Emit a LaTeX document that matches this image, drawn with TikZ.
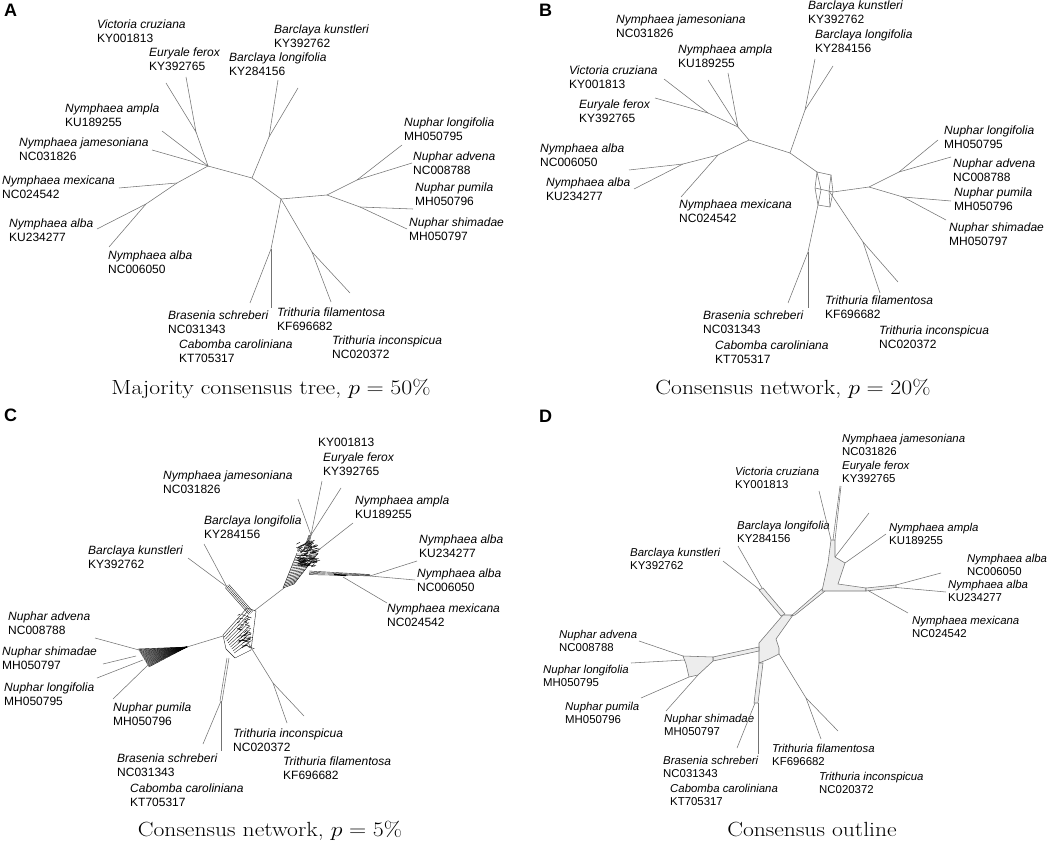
\documentclass[tikz,border=0pt]{standalone}
\usepackage{fontspec}
\newfontfamily\labfont{Liberation Sans}
\usetikzlibrary{positioning}

\newcommand{\tx}[2]{\textit{#1}\\#2}
\newcommand{\captext}[1]{\scalebox{1.15}[1]{#1}}

\begin{document}
\begin{tikzpicture}[%
x=1pt, y=-1pt,
br/.style={draw=black!55, line width=0.55pt},
net/.style={draw=black!85, line width=0.4pt},
hull/.style={draw=black!55, fill=black!7, line width=0.55pt},
taxon/.style={anchor=north west, inner sep=0pt, align=left,
  font=\labfont\fontsize{12}{14}\selectfont},
taxonsm/.style={taxon, font=\labfont\fontsize{11.4}{13.5}\selectfont},
panel/.style={anchor=north west, inner sep=0pt,
  font=\labfont\bfseries\fontsize{18}{18}\selectfont},
capt/.style={anchor=base, inner sep=0pt, font=\fontsize{20.5}{22}\selectfont}
]
\useasboundingbox (0,0) rectangle (1052,842);

\node[panel] (A) at (4,4) {A};
\node[panel] (B) at (539,4) {B};
\node[panel] (C) at (4,409) {C};
\node[panel] (D) at (539,410) {D};

% ---------- A: majority consensus tree
\node[taxon] (a-vic) at (97,20)  {\tx{Victoria cruziana}{KY001813}};
\node[taxon] (a-eur) at (149,48) {\tx{Euryale ferox}{KY392765}};
\node[taxon] (a-bk)  at (274,25) {\tx{Barclaya kunstleri}{KY392762}};
\node[taxon] (a-bl)  at (229,53) {\tx{Barclaya longifolia}{KY284156}};
\node[taxon] (a-amp) at (65,104) {\tx{Nymphaea ampla}{KU189255}};
\node[taxon] (a-jam) at (19,138) {\tx{Nymphaea jamesoniana}{NC031826}};
\node[taxon] (a-mex) at (2,176)  {\tx{Nymphaea mexicana}{NC024542}};
\node[taxon] (a-alk) at (9,219)  {\tx{Nymphaea alba}{KU234277}};
\node[taxon] (a-aln) at (108,251) {\tx{Nymphaea alba}{NC006050}};
\node[taxon] (a-nl)  at (404,118) {\tx{Nuphar longifolia}{MH050795}};
\node[taxon] (a-na)  at (413,152) {\tx{Nuphar advena}{NC008788}};
\node[taxon] (a-np)  at (415,183) {\tx{Nuphar pumila}{MH050796}};
\node[taxon] (a-ns)  at (409,218) {\tx{Nuphar shimadae}{MH050797}};
\node[taxon] (a-br)  at (168,311) {\tx{Brasenia schreberi}{NC031343}};
\node[taxon] (a-tf)  at (277,308) {\tx{Trithuria filamentosa}{KF696682}};
\node[taxon] (a-ca)  at (179,340) {\tx{Cabomba caroliniana}{KT705317}};
\node[taxon] (a-ti)  at (332,336) {\tx{Trithuria inconspicua}{NC020372}};
\node[capt] (a-cap) at (271,394) {\captext{Majority consensus tree, $p=50\%$}};

\coordinate (a1) at (208,166);
\coordinate (a2) at (252,178);
\coordinate (a3) at (281,199);
\coordinate (a4) at (327,195);
\coordinate (aVE) at (196,132);
\coordinate (aM) at (177,183);
\coordinate (aAl) at (146,204);
\coordinate (aB) at (269,137);
\coordinate (aN1) at (357,180);
\coordinate (aN2) at (360,207);
\coordinate (aC) at (271,249);
\coordinate (aT) at (312,252);
\coordinate (ta-vic) at (166,83);
\coordinate (ta-eur) at (186,77);
\coordinate (ta-amp) at (162,131);
\coordinate (ta-jam) at (152,150);
\coordinate (ta-mex) at (119,188);
\coordinate (ta-alk) at (97,229);
\coordinate (ta-aln) at (109,247);
\coordinate (ta-bl) at (278,80);
\coordinate (ta-bk) at (298,88);
\coordinate (ta-nl) at (402,145);
\coordinate (ta-na) at (412,163);
\coordinate (ta-np) at (413,209);
\coordinate (ta-ns) at (407,229);
\coordinate (ta-br) at (250,303);
\coordinate (ta-ca) at (271,308);
\coordinate (ta-tf) at (331,302);
\coordinate (ta-ti) at (350,293);

\draw[br] (ta-vic) -- (aVE) -- (ta-eur);
\draw[br] (aVE) -- (a1) -- (ta-amp);
\draw[br] (a1) -- (ta-jam);
\draw[br] (a1) -- (aM) -- (ta-mex);
\draw[br] (aM) -- (aAl) -- (ta-alk);
\draw[br] (aAl) -- (ta-aln);
\draw[br] (a1) -- (a2) -- (a3) -- (a4);
\draw[br] (a2) -- (aB) -- (ta-bl);
\draw[br] (aB) -- (ta-bk);
\draw[br] (a4) -- (aN1) -- (ta-nl);
\draw[br] (aN1) -- (ta-na);
\draw[br] (a4) -- (aN2) -- (ta-np);
\draw[br] (aN2) -- (ta-ns);
\draw[br] (a3) -- (aC) -- (ta-br);
\draw[br] (aC) -- (ta-ca);
\draw[br] (a3) -- (aT) -- (ta-tf);
\draw[br] (aT) -- (ta-ti);

% ---------- B: consensus network 20%
\node[taxon] (b-jam) at (616,15)  {\tx{Nymphaea jamesoniana}{NC031826}};
\node[taxon] (b-bk)  at (808,1)   {\tx{Barclaya kunstleri}{KY392762}};
\node[taxon] (b-bl)  at (815,30)  {\tx{Barclaya longifolia}{KY284156}};
\node[taxon] (b-amp) at (678,45)  {\tx{Nymphaea ampla}{KU189255}};
\node[taxon] (b-vic) at (569,66)  {\tx{Victoria cruziana}{KY001813}};
\node[taxon] (b-eur) at (579,100) {\tx{Euryale ferox}{KY392765}};
\node[taxon] (b-aln) at (540,144) {\tx{Nymphaea alba}{NC006050}};
\node[taxon] (b-alk) at (546,178) {\tx{Nymphaea alba}{KU234277}};
\node[taxon] (b-mex) at (679,200) {\tx{Nymphaea mexicana}{NC024542}};
\node[taxon] (b-nl)  at (944,126) {\tx{Nuphar longifolia}{MH050795}};
\node[taxon] (b-na)  at (953,159) {\tx{Nuphar advena}{NC008788}};
\node[taxon] (b-np)  at (954,188) {\tx{Nuphar pumila}{MH050796}};
\node[taxon] (b-ns)  at (949,223) {\tx{Nuphar shimadae}{MH050797}};
\node[taxon] (b-tf)  at (825,296) {\tx{Trithuria filamentosa}{KF696682}};
\node[taxon] (b-br)  at (703,311) {\tx{Brasenia schreberi}{NC031343}};
\node[taxon] (b-ti)  at (879,326) {\tx{Trithuria inconspicua}{NC020372}};
\node[taxon] (b-ca)  at (715,341) {\tx{Cabomba caroliniana}{KT705317}};
\node[capt] (b-cap) at (793,394) {\captext{Consensus network, $p=20\%$}};

\coordinate (b1) at (749,140);
\coordinate (b2) at (790,153);
\coordinate (bX) at (738,127);
\coordinate (bVE) at (708,113);
\coordinate (bM) at (718,155);
\coordinate (bAl) at (683,164);
\coordinate (bB) at (805,110);
\coordinate (bTL) at (817,172);
\coordinate (bTR) at (831,175);
\coordinate (bR) at (833,192);
\coordinate (bBR) at (830,207);
\coordinate (bBL) at (818,205);
\coordinate (bL) at (815,188);
\coordinate (bC1) at (821,190);
\coordinate (bC2) at (829,191);
\coordinate (bN) at (869,187);
\coordinate (bN1) at (899,172);
\coordinate (bN2) at (903,197);
\coordinate (bT) at (863,242);
\coordinate (bC) at (808,252);
\coordinate (tb-vic) at (664,79);
\coordinate (tb-eur) at (655,98);
\coordinate (tb-jam) at (708,80);
\coordinate (tb-amp) at (728,73);
\coordinate (tb-aln) at (629,170);
\coordinate (tb-alk) at (634,189);
\coordinate (tb-mex) at (681,197);
\coordinate (tb-bk) at (815,59);
\coordinate (tb-bl) at (833,66);
\coordinate (tb-nl) at (938,140);
\coordinate (tb-na) at (951,157);
\coordinate (tb-np) at (951,201);
\coordinate (tb-ns) at (946,220);
\coordinate (tb-tf) at (880,293);
\coordinate (tb-ti) at (898,282);
\coordinate (tb-br) at (788,303);
\coordinate (tb-ca) at (808,308);

\draw[br] (tb-vic) -- (bVE) -- (bX) -- (b1);
\draw[br] (tb-eur) -- (bVE);
\draw[br] (tb-jam) -- (bX) -- (tb-amp);
\draw[br] (b1) -- (bM) -- (tb-mex);
\draw[br] (bM) -- (bAl) -- (tb-aln);
\draw[br] (bAl) -- (tb-alk);
\draw[br] (b1) -- (b2) -- (bB) -- (tb-bk);
\draw[br] (bB) -- (tb-bl);
\draw[br] (b2) -- (bTL);
\draw[br] (bTL) -- (bTR) -- (bR) -- (bBR) -- (bBL) -- (bL) -- cycle;
\draw[br] (bTL) -- (bC1) -- (bBL);
\draw[br] (bTR) -- (bC2) -- (bBR);
\draw[br] (bL) -- (bR);
\draw[br] (bR) -- (bN) -- (bN1) -- (tb-nl);
\draw[br] (bN1) -- (tb-na);
\draw[br] (bN) -- (bN2) -- (tb-np);
\draw[br] (bN2) -- (tb-ns);
\draw[br] (bC2) -- (bT) -- (tb-tf);
\draw[br] (bT) -- (tb-ti);
\draw[br] (bBL) -- (bC) -- (tb-br);
\draw[br] (bC) -- (tb-ca);

% ---------- C: consensus network 5%
\node[taxon] (c-vic) at (318,438) {KY001813};
\node[taxon] (c-eur) at (323,453) {\tx{Euryale ferox}{KY392765}};
\node[taxon] (c-jam) at (163,471) {\tx{Nymphaea jamesoniana}{NC031826}};
\node[taxon] (c-amp) at (355,496) {\tx{Nymphaea ampla}{KU189255}};
\node[taxon] (c-bl)  at (204,516) {\tx{Barclaya longifolia}{KY284156}};
\node[taxon] (c-bk)  at (88,546)  {\tx{Barclaya kunstleri}{KY392762}};
\node[taxon] (c-alk) at (419,535) {\tx{Nymphaea alba}{KU234277}};
\node[taxon] (c-aln) at (417,569) {\tx{Nymphaea alba}{NC006050}};
\node[taxon] (c-mex) at (387,604) {\tx{Nymphaea mexicana}{NC024542}};
\node[taxon] (c-na)  at (8,612)   {\tx{Nuphar advena}{NC008788}};
\node[taxon] (c-ns)  at (2,647)   {\tx{Nuphar shimadae}{MH050797}};
\node[taxon] (c-nl)  at (4,683)   {\tx{Nuphar longifolia}{MH050795}};
\node[taxon] (c-np)  at (113,703) {\tx{Nuphar pumila}{MH050796}};
\node[taxon] (c-ti)  at (233,729) {\tx{Trithuria inconspicua}{NC020372}};
\node[taxon] (c-br)  at (117,754) {\tx{Brasenia schreberi}{NC031343}};
\node[taxon] (c-tf)  at (283,757) {\tx{Trithuria filamentosa}{KF696682}};
\node[taxon] (c-ca)  at (130,784) {\tx{Cabomba caroliniana}{KT705317}};
\node[capt] (c-cap) at (270,836) {\captext{Consensus network, $p=5\%$}};

\coordinate (c0) at (254,611);
\coordinate (cNy) at (284,588);
\coordinate (cU) at (311,535);
\coordinate (cAm) at (316,552);
\coordinate (cAl) at (370,576);
\coordinate (cMx) at (343,577);
\coordinate (cBa) at (227,587);
\coordinate (cNu) at (223,636);
\coordinate (cNw) at (187,647);
\coordinate (cBc) at (221,701);
\coordinate (cT0) at (247,641);
\coordinate (cT) at (273,683);
\coordinate (tc-vic) at (322,481);
\coordinate (tc-eur) at (341,488);
\coordinate (tc-jam) at (298,499);
\coordinate (tc-amp) at (353,523);
\coordinate (tc-alk) at (417,561);
\coordinate (tc-aln) at (415,580);
\coordinate (tc-mex) at (387,603);
\coordinate (tc-bk) at (188,558);
\coordinate (tc-bl) at (204,544);
\coordinate (tc-na) at (95,638);
\coordinate (tc-ns) at (103,664);
\coordinate (tc-nl) at (97,678);
\coordinate (tc-np) at (113,699);
\coordinate (tc-br) at (203,744);
\coordinate (tc-ca) at (221,751);
\coordinate (tc-ti) at (287,723);
\coordinate (tc-tf) at (304,716);

\draw[br] (c0) -- (cNy);
% Nymphaea splits
\draw[net] (283,588) -- (297,553) (294,584) -- (318,553);
\foreach \i in {0,...,20}
  \draw[net, black] (283+0.7*\i, 588-1.7*\i) -- (294+1.2*\i, 584-1.5*\i);
\pgfmathsetseed{7}
\foreach \i in {1,...,110}{
  \pgfmathsetmacro{\xa}{296+19*rnd}
  \pgfmathsetmacro{\ya}{543+24*rnd}
  \pgfmathsetmacro{\xb}{\xa+3+5*rnd}
  \pgfmathsetmacro{\yb}{\ya-4+5*rnd}
  \draw[net, black] (\xa,\ya) -- (\xb,\yb);
}
\foreach \d in {0,1.2,2.4,3.6}
  \draw[net] (304+\d,549) -- (309+\d*0.6,535);
\draw[br] (cU) -- (tc-vic);
\draw[br] (cU) -- (tc-eur);
\draw[br] (cU) -- (tc-jam);
\draw[br] (cAm) -- (tc-amp);
\foreach \d in {0,1.2,2.4,3.6}
  \draw[net] (309,571+\d) -- (370,574.5+\d*0.4);
\draw[net, black, line width=1.4pt] (334,574.5) -- (346,575.5);
\draw[br] (cAl) -- (tc-alk);
\draw[br] (cAl) -- (tc-aln);
\draw[br] (cMx) -- (tc-mex);
% Barclaya splits
\foreach \d in {-2.4,-0.8,0.8,2.4}
  \draw[net] (251+0.76*\d, 613-0.65*\d) -- (227+0.76*\d, 586-0.65*\d);
\draw[br] (cBa) -- (tc-bk);
\draw[br] (cBa) -- (tc-bl);
% lower box
\draw[net] (223,635) -- (247,608) -- (256,611) -- (251,650) -- (235,658) -- (226,649) -- cycle;
\foreach \i in {1,...,9}
  \draw[net] (223+1.25*\i, 635+2*\i) -- (247+0.5*\i, 608+3.6*\i);
\pgfmathsetseed{3}
\foreach \i in {1,...,45}{
  \pgfmathsetmacro{\xa}{237+12*rnd}
  \pgfmathsetmacro{\ya}{614+34*rnd}
  \pgfmathsetmacro{\xb}{\xa+2+4*rnd}
  \pgfmathsetmacro{\yb}{\ya-4+6*rnd}
  \draw[net, black] (\xa,\ya) -- (\xb,\yb);
}
% Nuphar
\draw[br] (cNu) -- (cNw);
\foreach \i in {0,...,24}
  \draw[net, black] (cNw) -- (138+0.45*\i, 649+0.75*\i);
\draw[br] (139,650) -- (tc-na);
\draw[br] (136,656) -- (tc-ns);
\draw[br] (143,660) -- (tc-nl);
\draw[br] (148,665) -- (tc-np);
% Cabombaceae, Hydatellaceae
\draw[br] (227,658) -- (220,701);
\draw[br] (229,658) -- (222,701);
\draw[br] (cBc) -- (tc-br);
\draw[br] (cBc) -- (tc-ca);
\draw[br] (cT0) -- (cT) -- (tc-ti);
\draw[br] (cT) -- (tc-tf);

% ---------- D: consensus outline
\node[taxonsm] (d-jam) at (842,434) {\tx{Nymphaea jamesoniana}{NC031826}};
\node[taxonsm] (d-eur) at (842,461) {\tx{Euryale ferox}{KY392765}};
\node[taxonsm] (d-vic) at (735,467) {\tx{Victoria cruziana}{KY001813}};
\node[taxonsm] (d-bl)  at (737,521) {\tx{Barclaya longifolia}{KY284156}};
\node[taxonsm] (d-amp) at (889,523) {\tx{Nymphaea ampla}{KU189255}};
\node[taxonsm] (d-bk)  at (630,548) {\tx{Barclaya kunstleri}{KY392762}};
\node[taxonsm] (d-aln) at (967,554) {\tx{Nymphaea alba}{NC006050}};
\node[taxonsm] (d-alk) at (948,580) {\tx{Nymphaea alba}{KU234277}};
\node[taxonsm] (d-mex) at (912,616) {\tx{Nymphaea mexicana}{NC024542}};
\node[taxonsm] (d-na)  at (559,630) {\tx{Nuphar advena}{NC008788}};
\node[taxonsm] (d-nl)  at (543,665) {\tx{Nuphar longifolia}{MH050795}};
\node[taxonsm] (d-np)  at (565,702) {\tx{Nuphar pumila}{MH050796}};
\node[taxonsm] (d-ns)  at (664,714) {\tx{Nuphar shimadae}{MH050797}};
\node[taxonsm] (d-tf)  at (772,744) {\tx{Trithuria filamentosa}{KF696682}};
\node[taxonsm] (d-br)  at (663,756) {\tx{Brasenia schreberi}{NC031343}};
\node[taxonsm] (d-ti)  at (819,772) {\tx{Trithuria inconspicua}{NC020372}};
\node[taxonsm] (d-ca)  at (670,784) {\tx{Cabomba caroliniana}{KT705317}};
\node[capt] (d-cap) at (812,836) {\captext{Consensus outline}};

\coordinate (td-vic) at (819,491);
\coordinate (td-eur) at (841,486);
\coordinate (td-amp) at (869,513);
\coordinate (td-am2) at (886,534);
\coordinate (td-aln) at (941,573);
\coordinate (td-alk) at (946,592);
\coordinate (td-mex) at (908,613);
\coordinate (td-bk) at (723,561);
\coordinate (td-bl) at (738,546);
\coordinate (td-na) at (639,641);
\coordinate (td-nl) at (631,663);
\coordinate (td-np) at (641,698);
\coordinate (td-ns) at (666,711);
\coordinate (td-br) at (737,748);
\coordinate (td-ca) at (758,754);
\coordinate (td-tf) at (821,739);
\coordinate (td-ti) at (838,731);
\coordinate (dT) at (806,698);

% hulls
\draw[hull] (783,615) -- (793,615) -- (776,639) -- (779,648) -- (779,654)
  -- (769,659) -- (759,663) -- (759,651) -- (759,643) -- cycle;
\draw[hull] (781,616) -- (785,614) -- (763,588) -- (759,590) -- cycle;
\draw[hull] (791,616) -- (795,615) -- (825,591) -- (822,589) -- cycle;
\draw[hull] (822,591) -- (828,563) -- (831,540) -- (835,540) -- (835,557)
  -- (845,563) -- (838,584) -- (866,588) -- (866,591) -- cycle;
\draw[hull] (866,588) -- (896,585) -- (896,587.5) -- (866,591) -- cycle;
\draw[hull] (759,647) -- (759,651) -- (713,661) -- (713,657) -- cycle;
\draw[hull] (683,656) -- (713,657) -- (713,661) -- (698,675) -- (689,677)
  -- (686,664) -- cycle;
\draw[hull] (759,663) -- (763,663) -- (758,703) -- (754,703) -- cycle;

\draw[br] (831,540) -- (td-vic);
\draw[br] (835,540) -- (td-eur);
\draw[br] (833,540) -- (840,486);
\draw[br] (835,557) -- (td-amp);
\draw[br] (845,563) -- (td-am2);
\draw[br] (896,585) -- (td-aln);
\draw[br] (896,587.5) -- (td-alk);
\draw[br] (868,590.5) -- (td-mex);
\draw[br] (760,590) -- (td-bk);
\draw[br] (762,588) -- (td-bl);
\draw[br] (683,656) -- (td-na);
\draw[br] (685,660) -- (td-nl);
\draw[br] (689,677) -- (td-np);
\draw[br] (698,675) -- (td-ns);
\draw[br] (755,703) -- (td-br);
\draw[br] (758,703) -- (td-ca);
\draw[br] (779,654) -- (dT) -- (td-tf);
\draw[br] (dT) -- (td-ti);

\end{tikzpicture}
\end{document}
